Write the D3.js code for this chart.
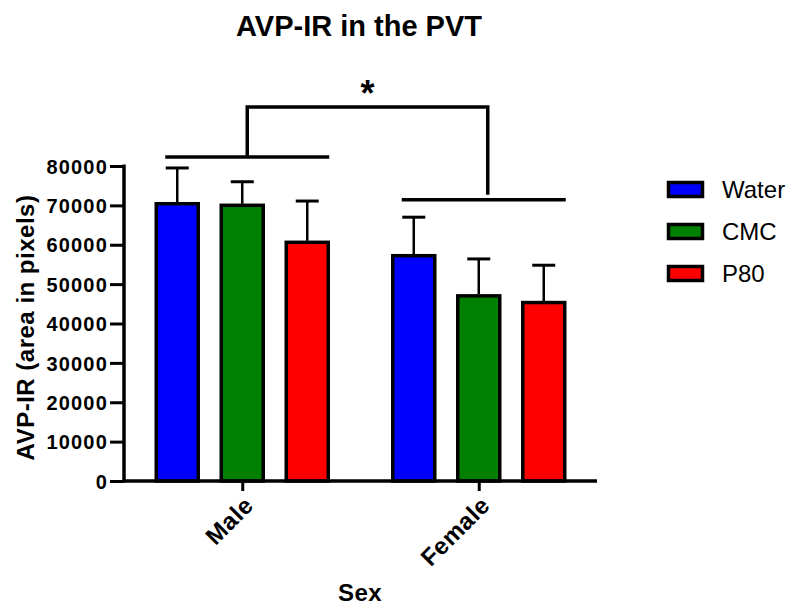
<!DOCTYPE html>
<html>
<head>
  <meta charset="UTF-8">
  <title>AVP-IR in the PVT</title>
  <style>
    body { margin: 0; background: #fff; }
    svg text { font-family: "Liberation Sans", Arial, sans-serif; fill: #000; }
    .tick-label { font-size: 20px; font-weight: bold; letter-spacing: 1.2px; }
    .x-label { font-size: 24px; font-weight: bold; letter-spacing: 0.5px; }
    .axis-title { font-size: 24px; font-weight: bold; letter-spacing: 0.5px; }
    .legend text { font-size: 24px; }
  </style>
</head>
<body>
  <div id="chart"></div>

  <script src="https://cdn.jsdelivr.net/npm/d3@7"></script>
  <script>
    // data (mean and SEM)
    const groups = ["Male", "Female"];
    const series = ["Water", "CMC", "P80"];
    const colors = ["#0000ff", "#008000", "#ff0000"];
    const means = {
      Male:   [70800, 70400, 61000],
      Female: [57600, 47400, 45700]
    };
    const sems = {
      Male:   [8700, 5600, 10100],
      Female: [9400, 9000, 9100]
    };
    const yTicks = [0, 10000, 20000, 30000, 40000, 50000, 60000, 70000, 80000];

    // significance brackets (data units)
    const groupLineValue = { Male: 82300, Female: 71400 };
    const topLineValue = 95000;

    const width = 793, height = 606;
    const svg = d3.select("#chart").append("svg")
      .attr("width", width)
      .attr("height", height);

    const x = d3.scalePoint().domain(groups).range([124, 597]).padding(0.5);
    const xs = d3.scaleBand().domain(series).range([-87.5, 87.5])
      .paddingInner(20 / 65).paddingOuter(0);
    const y = d3.scaleLinear().domain([0, 80000]).range([481, 166]);

    // title
    svg.append("text")
      .attr("x", 359).attr("y", 36)
      .attr("text-anchor", "middle")
      .style("font-size", "29px").style("font-weight", "bold")
      .text("AVP-IR in the PVT");

    // bars
    const g = svg.append("g");
    groups.forEach(grp => {
      series.forEach((s, i) => {
        const cx = x(grp) + xs(s);
        const bw = xs.bandwidth();
        const v = means[grp][i];
        g.append("rect")
          .attr("x", cx + 1.5)
          .attr("y", y(v) + 1.5)
          .attr("width", bw - 3)
          .attr("height", y(0) - y(v) - 1.5)
          .attr("fill", colors[i])
          .attr("stroke", "#000")
          .attr("stroke-width", 3.5);
        // error bar (upper only)
        const mx = cx + bw / 2;
        g.append("line")
          .attr("x1", mx).attr("x2", mx)
          .attr("y1", y(v)).attr("y2", y(v + sems[grp][i]))
          .attr("stroke", "#000").attr("stroke-width", 2.5);
        g.append("line")
          .attr("x1", mx - 11.5).attr("x2", mx + 11.5)
          .attr("y1", y(v + sems[grp][i])).attr("y2", y(v + sems[grp][i]))
          .attr("stroke", "#000").attr("stroke-width", 3);
      });
    });

    // axes
    const yAxis = svg.append("g").attr("transform", "translate(124,0)")
      .call(d3.axisLeft(y).tickValues(yTicks).tickSize(14).tickPadding(3).tickFormat(d3.format("d")));
    yAxis.select(".domain").attr("stroke-width", 3.5).attr("d", `M0,${y(80000) - 1.5}V${y(0) + 1.5}`);
    yAxis.selectAll(".tick line").attr("stroke-width", 3);
    yAxis.selectAll(".tick text").attr("class", "tick-label").attr("dy", "0.36em").attr("x", -16);

    const xAxis = svg.append("g").attr("transform", `translate(0,${y(0)})`)
      .call(d3.axisBottom(x).tickSize(10).tickPadding(6));
    xAxis.select(".domain").attr("stroke-width", 3.5).attr("d", "M124,0H597");
    xAxis.selectAll(".tick line").attr("stroke-width", 3);
    xAxis.selectAll(".tick text")
      .attr("class", "x-label")
      .attr("text-anchor", "end")
      .attr("dy", 0)
      .attr("transform", "translate(12,26) rotate(-45)")
      .attr("x", 0).attr("y", 0);

    svg.selectAll(".tick text").style("font-family", "'Liberation Sans', Arial, sans-serif");

    // axis titles
    svg.append("text")
      .attr("class", "axis-title")
      .attr("transform", `translate(34,${(y(0) + y(80000)) / 2 + 4}) rotate(-90)`)
      .attr("text-anchor", "middle")
      .text("AVP-IR (area in pixels)");
    svg.append("text")
      .attr("class", "axis-title")
      .attr("x", 360).attr("y", 601)
      .attr("text-anchor", "middle")
      .text("Sex");

    // significance brackets
    const br = svg.append("g").attr("stroke", "#000").attr("stroke-width", 3.5).attr("fill", "none");
    groups.forEach(grp => {
      br.append("line")
        .attr("x1", x(grp) - 77).attr("x2", x(grp) + 87)
        .attr("y1", y(groupLineValue[grp])).attr("y2", y(groupLineValue[grp]));
    });
    const lx = x("Male") + 5, rx = x("Female") + 9;
    br.append("path")
      .attr("d", `M${lx},${y(groupLineValue.Male)}V${y(topLineValue)}H${rx}V${y(groupLineValue.Female) - 5}`);
    svg.append("text")
      .attr("x", (lx + rx) / 2).attr("y", 106)
      .attr("text-anchor", "middle")
      .style("font-size", "36px").style("font-weight", "bold")
      .text("*");

    // legend
    const legend = svg.append("g").attr("class", "legend");
    series.forEach((s, i) => {
      const ly = 189.5 + i * 42;
      legend.append("rect")
        .attr("x", 668.5).attr("y", ly - 7)
        .attr("width", 34).attr("height", 14)
        .attr("fill", colors[i])
        .attr("stroke", "#000").attr("stroke-width", 3.5);
      legend.append("text")
        .attr("x", 722).attr("y", ly)
        .attr("dy", "0.36em")
        .text(s);
    });
  </script>
</body>
</html>
